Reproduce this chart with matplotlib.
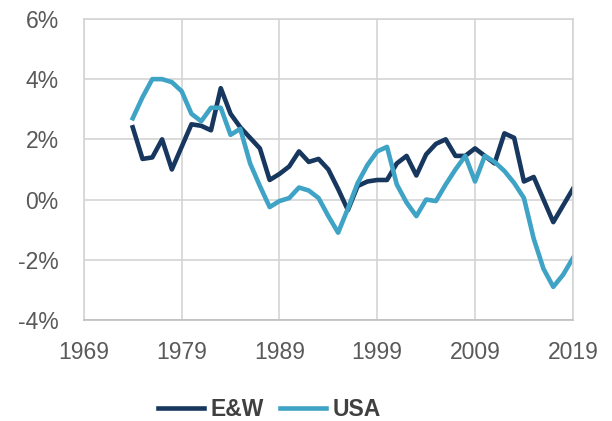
import matplotlib.pyplot as plt
from matplotlib.ticker import FuncFormatter

years = list(range(1974, 2020))

# E&W series (%)
ew = [2.4, 1.35, 1.4, 2.0, 1.0, 1.75, 2.5, 2.45, 2.3, 3.7,
      2.85, 2.4, 2.05, 1.7, 0.65, 0.85, 1.1, 1.6, 1.25, 1.35,
      1.0, 0.35, -0.35, 0.45, 0.6, 0.65, 0.65, 1.2, 1.45, 0.8,
      1.5, 1.85, 2.0, 1.45, 1.45, 1.7, 1.45, 1.2, 2.2, 2.05,
      0.6, 0.75, 0.0, -0.75, -0.2, 0.35]

# USA series (%)
usa = [2.7, 3.4, 4.0, 4.0, 3.9, 3.6, 2.85, 2.6, 3.05, 3.05,
       2.15, 2.35, 1.2, 0.45, -0.25, -0.05, 0.05, 0.4, 0.3, 0.05,
       -0.55, -1.1, -0.3, 0.55, 1.15, 1.6, 1.75, 0.5, -0.1, -0.55,
       0.0, -0.05, 0.5, 1.0, 1.45, 0.6, 1.45, 1.25, 0.95, 0.55,
       0.05, -1.3, -2.3, -2.9, -2.5, -1.95]

xticks = [1969, 1979, 1989, 1999, 2009, 2019]
yticks = [-4, -2, 0, 2, 4, 6]

plt.rcParams['font.family'] = ['Liberation Sans', 'DejaVu Sans']

fig = plt.figure(figsize=(6.12, 4.21), dpi=100)
ax = fig.add_axes([0.137, 0.240, 0.799, 0.715])

ax.plot(years, ew, color='#17375e', lw=3.3, label='E&W')
ax.plot(years, usa, color='#3fa3c6', lw=3.3, label='USA')

ax.set_xlim(1969, 2019)
ax.set_ylim(-4, 6)
ax.set_xticks(xticks)
ax.set_yticks(yticks)
ax.yaxis.set_major_formatter(FuncFormatter(lambda v, p: f'{v:.0f}%'))
ax.grid(True, color='#d4d4d4', lw=1.2)
ax.set_axisbelow(True)
for s in ax.spines.values():
    s.set_color('#d4d4d4')
    s.set_linewidth(1.2)
ax.spines['bottom'].set_color('#bfbfbf')
ax.tick_params(length=0, labelsize=16.5, colors='#595959')
ax.tick_params(axis='y', pad=18)
ax.tick_params(axis='x', pad=15)

leg = ax.legend(loc='upper center', bbox_to_anchor=(0.38, -0.19), ncol=2,
                frameon=False, handlelength=2.0, handletextpad=0.3,
                columnspacing=0.7, prop={'size': 16.5, 'weight': 'bold'})
for t in leg.get_texts():
    t.set_color('#404040')

fig.savefig('out.png', dpi=100)
